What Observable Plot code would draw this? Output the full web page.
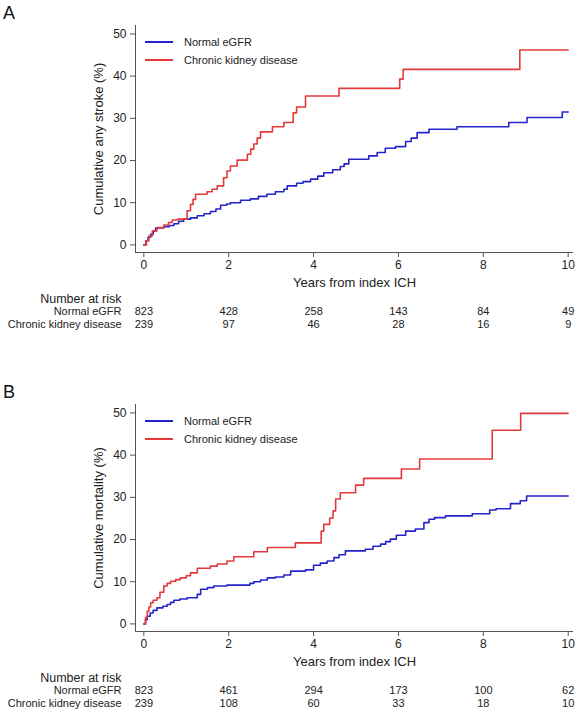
<!DOCTYPE html>
<html>
<head>
<meta charset="utf-8">
<script src="https://cdn.jsdelivr.net/npm/d3@7"></script>
<script src="https://cdn.jsdelivr.net/npm/@observablehq/plot@0.6"></script>
<style>
  body { margin: 0; background: #fff; font-family: "Liberation Sans", Arial, Helvetica, sans-serif; }
  #page { position: relative; width: 578px; height: 711px; overflow: hidden; }
  .panel { position: absolute; left: 0; width: 578px; }
  .panel svg { display: block; }
  .letter { position: absolute; left: 3px; font-size: 18px; color: #111; line-height: 1; }
  .legend { position: absolute; left: 145px; font-size: 11px; color: #222; }
  .legend .item { position: absolute; left: 0; white-space: nowrap; display: flex; align-items: center; height: 14px; }
  .legend .swatch { width: 28px; height: 1.5px; margin-right: 11px; }
</style>
</head>
<body>
<div id="page"></div>
<script>
// Groups and colours
const groups = ["Normal eGFR", "Chronic kidney disease"];
const groupColors = ["#2424cc", "#e23a3a"];

// Axis ticks
const xTicks = [0, 2, 4, 6, 8, 10];
const yTicks = [0, 10, 20, 30, 40, 50];
const xDomain = [-0.196, 10.125];
const yDomain = [-1.8, 52];

// Panel A: cumulative any stroke (%) — [years, percent]
const strokeNormal = [[0,0],[0.05,1.0],[0.1,1.8],[0.16,2.5],[0.22,3.3],[0.28,4.0],[0.47,4.3],[0.6,4.6],[0.71,5.0],[0.82,5.6],[0.94,6.1],[1.1,6.4],[1.26,6.9],[1.42,7.4],[1.57,7.9],[1.7,8.5],[1.81,9.4],[1.95,9.7],[2.04,10.0],[2.28,10.6],[2.51,10.9],[2.7,11.5],[2.9,12.0],[3.1,12.6],[3.3,13.2],[3.38,14.0],[3.6,14.6],[3.75,15.0],[3.93,15.6],[4.1,16.3],[4.24,17.1],[4.45,17.8],[4.63,18.6],[4.72,19.2],[4.83,20.3],[5.3,21.1],[5.5,21.9],[5.69,22.9],[5.93,23.3],[6.17,24.5],[6.3,25.3],[6.44,26.6],[6.72,27.4],[7.38,28.0],[8.6,29.0],[9.03,30.2],[9.86,31.5],[10,31.5]];
const strokeCkd = [[0,0],[0.06,1.0],[0.12,2.1],[0.2,3.3],[0.31,4.1],[0.47,4.7],[0.58,5.3],[0.67,5.9],[0.8,6.1],[1.02,8.1],[1.1,9.6],[1.16,10.8],[1.22,12.0],[1.49,12.6],[1.61,13.2],[1.73,14.0],[1.88,15.9],[1.96,17.5],[2.04,18.7],[2.2,20.1],[2.44,21.5],[2.52,22.7],[2.59,23.9],[2.67,25.3],[2.75,26.8],[3.03,28.0],[3.3,29.0],[3.52,31.3],[3.6,32.7],[3.81,35.3],[4.6,37.1],[6.03,39.3],[6.11,41.6],[8.86,46.2],[10,46.2]];

// Panel B: cumulative mortality (%) — [years, percent]
const mortNormal = [[0,0],[0.04,1.0],[0.08,1.8],[0.15,2.6],[0.22,3.2],[0.31,3.8],[0.45,4.2],[0.55,4.6],[0.63,5.1],[0.71,5.6],[0.85,5.9],[1.02,6.2],[1.26,7.0],[1.34,8.2],[1.5,8.6],[1.65,9.0],[1.96,9.2],[2.5,9.6],[2.59,10.0],[2.75,10.4],[2.91,10.9],[3.1,11.1],[3.3,11.6],[3.46,12.5],[3.81,12.8],[4.0,13.9],[4.16,14.4],[4.32,14.9],[4.48,15.7],[4.6,16.4],[4.75,17.3],[5.22,17.7],[5.4,18.4],[5.58,18.9],[5.7,19.5],[5.81,20.1],[5.95,21.0],[6.17,22.0],[6.4,22.5],[6.6,24.0],[6.72,24.8],[6.85,25.2],[7.11,25.6],[7.74,26.1],[8.15,27.0],[8.3,27.3],[8.64,28.5],[8.87,29.2],[9.02,30.3],[10,30.3]];
const mortCkd = [[0,0],[0.04,1.5],[0.08,3.0],[0.12,4.0],[0.16,5.0],[0.22,5.6],[0.31,6.2],[0.38,7.5],[0.47,9.0],[0.55,9.6],[0.63,10.1],[0.75,10.5],[0.86,10.9],[1.0,11.4],[1.1,12.1],[1.26,13.2],[1.57,13.7],[1.73,14.2],[1.96,14.9],[2.12,15.9],[2.59,17.1],[2.91,18.1],[3.57,19.2],[4.18,22.0],[4.24,23.6],[4.38,25.1],[4.46,26.8],[4.52,29.6],[4.63,31.1],[4.99,32.9],[5.18,34.5],[6.07,36.7],[6.5,39.1],[8.21,45.9],[8.88,49.9],[10,49.9]];

// Number at risk at each labelled year
const riskYears = [0, 2, 4, 6, 8, 10];
const strokeRiskNormal = [823, 428, 258, 143, 84, 49];
const strokeRiskCkd = [239, 97, 46, 28, 16, 9];
const mortRiskNormal = [823, 461, 294, 173, 100, 62];
const mortRiskCkd = [239, 108, 60, 33, 18, 10];

const riskHeader = "Number at risk";
const fontFamily = '"Liberation Sans", Arial, Helvetica, sans-serif';
const textColor = "#222";
const axisColor = "#555";

function panel({top, letter, yLabel, curves, risks}) {
  const page = document.getElementById("page");
  const wrap = document.createElement("div");
  wrap.className = "panel";
  wrap.style.top = top + "px";
  page.appendChild(wrap);

  const lineData = curves.flatMap((pts, i) => pts.map(([t, v]) => ({t, v, group: groups[i]})));

  const main = Plot.plot({
    width: 578, height: 290,
    marginLeft: 135, marginRight: 5, marginTop: 25, marginBottom: 38,
    style: {fontFamily, fontSize: "12px", color: textColor, background: "transparent"},
    x: {domain: xDomain},
    y: {domain: yDomain},
    color: {domain: groups, range: groupColors},
    marks: [
      Plot.ruleX([xDomain[0]], {stroke: axisColor, strokeWidth: 1}),
      Plot.ruleY([yDomain[0]], {stroke: axisColor, strokeWidth: 1}),
      Plot.line(lineData, {x: "t", y: "v", z: "group", stroke: "group", curve: "step-after", strokeWidth: 1.6}),
      Plot.axisX({ticks: xTicks, tickSize: 5, tickPadding: 3, stroke: axisColor, fill: textColor,
        label: "Years from index ICH", labelAnchor: "center", labelArrow: "none", labelOffset: 34, fontSize: 12}),
      Plot.axisY({ticks: yTicks, tickSize: 5, tickPadding: 4, stroke: axisColor, fill: textColor,
        label: yLabel, labelAnchor: "center", labelArrow: "none", labelOffset: 42, fontSize: 12})
    ]
  });
  main.querySelectorAll("[aria-label='x-axis label'] text, [aria-label='y-axis label'] text").forEach(t => t.setAttribute("font-size", "13"));
  wrap.appendChild(main);

  const riskData = risks.flatMap((arr, i) => arr.map((n, k) => ({t: riskYears[k], n, group: groups[i]})));
  const table = Plot.plot({
    width: 578, height: 40,
    marginLeft: 135, marginRight: 5, marginTop: 7.5, marginBottom: 5.5,
    style: {fontFamily, fontSize: "11px", color: textColor, background: "transparent"},
    x: {domain: xDomain, axis: null},
    y: {type: "point", domain: [riskHeader, ...groups], padding: 0, axis: null},
    marks: [
      Plot.text([riskHeader], {y: d => d, frameAnchor: "left", textAnchor: "end", dx: -14, fontSize: 12.5, fill: textColor}),
      Plot.text(groups, {y: d => d, frameAnchor: "left", textAnchor: "end", dx: -14, fontSize: 11, fill: textColor}),
      Plot.text(riskData, {x: "t", y: "group", text: "n", fontSize: 11, fill: textColor})
    ]
  });
  table.style.position = "absolute";
  table.style.top = "290px";
  table.style.left = "0";
  wrap.appendChild(table);

  const let_ = document.createElement("div");
  let_.className = "letter";
  let_.textContent = letter;
  let_.style.top = "4px";
  wrap.appendChild(let_);

  const legend = document.createElement("div");
  legend.className = "legend";
  legend.style.top = "0";
  groups.forEach((g, i) => {
    const item = document.createElement("div");
    item.className = "item";
    item.style.top = (35 + 18 * i) + "px";
    const sw = document.createElement("span");
    sw.className = "swatch";
    sw.style.background = groupColors[i];
    const lab = document.createElement("span");
    lab.textContent = g;
    item.appendChild(sw);
    item.appendChild(lab);
    legend.appendChild(item);
  });
  wrap.appendChild(legend);
}

panel({top: 0, letter: "A", yLabel: "Cumulative any stroke (%)",
  curves: [strokeNormal, strokeCkd], risks: [strokeRiskNormal, strokeRiskCkd]});
panel({top: 379, letter: "B", yLabel: "Cumulative mortality (%)",
  curves: [mortNormal, mortCkd], risks: [mortRiskNormal, mortRiskCkd]});
</script>
</body>
</html>
